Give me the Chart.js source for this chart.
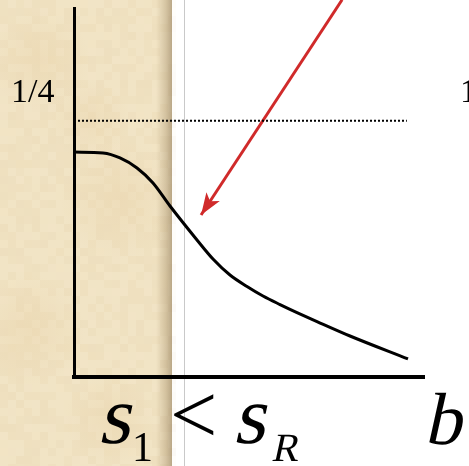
<!DOCTYPE html>
<html>
<head>
<meta charset="utf-8">
<script src="https://cdn.jsdelivr.net/npm/chart.js@4.4.0/dist/chart.umd.min.js"></script>
<style>
  html, body { margin: 0; padding: 0; background: #fff; }
  #wrap { width: 469px; height: 466px; }
</style>
</head>
<body>
<div id="wrap"><canvas id="curveChart" width="469" height="466"></canvas></div>
<script>
// falling curve, sampled along b
const curveB   = [0, 0.0829, 0.1314, 0.18, 0.2257, 0.2743, 0.3514, 0.3971, 0.4457, 0.4943, 0.54, 0.5886, 0.6371, 0.6943, 0.7886, 0.9543];
const curveVal = [0.2195, 0.2185, 0.2137, 0.2039, 0.1893, 0.1668, 0.1337, 0.1151, 0.0995, 0.0883, 0.079, 0.0707, 0.0629, 0.0541, 0.04, 0.0176];

// dotted limit at 1/4
const limitVal = 0.25;
const limitB = [0, 0.951];
const limitLabel = '1/4';

// arrow pointing into the bend
const arrowFrom = { x: 0.766, y: 0.368 };
const arrowTo   = { x: 0.363, y: 0.158 };

const curvePoints = curveB.map((b, i) => ({ x: b, y: curveVal[i] }));
const limitPoints = limitB.map(b => ({ x: b, y: limitVal }));

const SERIF = '"Liberation Serif", "Times New Roman", Times, serif';

// cheap repeatable hash for the paper mottling
function hash(i, j) {
    let h = (i * 374761393 + j * 668265263) | 0;
    h = (h ^ (h >>> 13)) * 1274126177;
    h = h ^ (h >>> 16);
    return ((h >>> 0) % 1000) / 1000;
}

// slanted serif text (math italic look)
function slanted(ctx, text, x, y, size) {
    ctx.save();
    ctx.font = size + 'px ' + SERIF;
    ctx.translate(x, y);
    ctx.transform(1, 0, -0.22, 1, 0, 0);
    ctx.fillText(text, 0, 0);
    ctx.restore();
}

const paperPlugin = {
    id: 'paper',
    beforeDraw(chart) {
        const ctx = chart.ctx;
        const H = chart.height;
        const paperW = 172;
        ctx.save();
        ctx.fillStyle = '#fff';
        ctx.fillRect(0, 0, chart.width, H);

        ctx.fillStyle = '#f1e3c3';
        ctx.fillRect(0, 0, paperW, H);
        // mottled blocks
        const cell = 8;
        for (let i = 0; i * cell < paperW; i++) {
            for (let j = 0; j * cell < H; j++) {
                const v = hash(i, j);
                const a = 0.04 + v * 0.1;
                ctx.fillStyle = v > 0.55 ? `rgba(250,240,215,${a})` : `rgba(214,190,145,${a})`;
                ctx.fillRect(i * cell, j * cell, cell, cell);
            }
        }
        // softer large blotches
        const blotches = [[40, 60, 50], [120, 200, 60], [30, 330, 55], [110, 420, 45], [90, 120, 40]];
        blotches.forEach(([bx, by, r]) => {
            const g = ctx.createRadialGradient(bx, by, 0, bx, by, r);
            g.addColorStop(0, 'rgba(232,208,165,0.35)');
            g.addColorStop(1, 'rgba(232,208,165,0)');
            ctx.fillStyle = g;
            ctx.fillRect(0, 0, paperW, H);
        });
        // shadow along the right edge of the paper
        const sh = ctx.createLinearGradient(156, 0, paperW, 0);
        sh.addColorStop(0, 'rgba(150,125,85,0)');
        sh.addColorStop(0.6, 'rgba(150,125,85,0.3)');
        sh.addColorStop(1, 'rgba(140,118,85,0.55)');
        ctx.fillStyle = sh;
        ctx.fillRect(156, 0, paperW - 156, H);

        // thin grey rule
        ctx.fillStyle = '#c9c9c9';
        ctx.fillRect(184, 0, 1, H);
        ctx.restore();
    },
    afterDatasetsDraw(chart) {
        const ctx = chart.ctx;
        const xs = chart.scales.x, ys = chart.scales.y;
        // arrow head
        const x0 = xs.getPixelForValue(arrowFrom.x), y0 = ys.getPixelForValue(arrowFrom.y);
        const x1 = xs.getPixelForValue(arrowTo.x), y1 = ys.getPixelForValue(arrowTo.y);
        const ang = Math.atan2(y1 - y0, x1 - x0);
        const len = 22, half = 8;
        const c = Math.cos(ang), s = Math.sin(ang);
        ctx.save();
        ctx.fillStyle = '#d02a2a';
        ctx.beginPath();
        ctx.moveTo(x1, y1);
        ctx.lineTo(x1 - len * c + half * s, y1 - len * s - half * c);
        ctx.lineTo(x1 - len * 0.75 * c, y1 - len * 0.75 * s);
        ctx.lineTo(x1 - len * c - half * s, y1 - len * s + half * c);
        ctx.closePath();
        ctx.fill();
        ctx.restore();
    },
    afterDraw(chart) {
        const ctx = chart.ctx;
        const ys = chart.scales.y;
        const yLim = ys.getPixelForValue(limitVal);
        ctx.save();
        ctx.fillStyle = '#000';
        ctx.textBaseline = 'alphabetic';
        ctx.font = '34px ' + SERIF;
        ctx.fillText(limitLabel, 11, yLim - 19);
        ctx.fillText('1', 460, yLim - 19);

        // axis caption: s1 < sR      b
        slanted(ctx, 's', 98, 443, 82);
        slanted(ctx, 's', 233, 443, 82);
        ctx.font = '84px ' + SERIF;
        ctx.fillText('<', 170, 443);
        ctx.font = '42px ' + SERIF;
        ctx.fillText('1', 132, 461);
        slanted(ctx, 'R', 271, 461, 40);
        slanted(ctx, 'b', 424, 444, 74);
        ctx.restore();
    }
};

new Chart(document.getElementById('curveChart'), {
    type: 'scatter',
    data: {
        datasets: [{
            data: curvePoints,
            showLine: true,
            borderColor: '#000',
            borderWidth: 3,
            pointRadius: 0,
            cubicInterpolationMode: 'monotone'
        }, {
            data: limitPoints,
            showLine: true,
            borderColor: '#000',
            borderWidth: 2,
            borderDash: [2, 2],
            borderCapStyle: 'butt',
            pointRadius: 0
        }, {
            data: [arrowFrom, arrowTo],
            showLine: true,
            borderColor: '#d02a2a',
            borderWidth: 3,
            pointRadius: 0,
            clip: false
        }]
    },
    options: {
        responsive: false,
        animation: false,
        devicePixelRatio: 1,
        layout: { padding: { left: 74, top: 8, right: 45, bottom: 89 } },
        plugins: { legend: { display: false }, tooltip: { enabled: false } },
        scales: {
            x: {
                type: 'linear', min: 0, max: 1,
                grid: { display: false, drawTicks: false },
                border: { display: true, color: '#000', width: 4 },
                ticks: { display: false },
                afterFit: s => { s.height = 0; }
            },
            y: {
                type: 'linear', min: 0, max: 0.36,
                grid: { display: false, drawTicks: false },
                border: { display: true, color: '#000', width: 3 },
                ticks: { display: false },
                afterFit: s => { s.width = 0; }
            }
        }
    },
    plugins: [paperPlugin]
});
</script>
</body>
</html>
